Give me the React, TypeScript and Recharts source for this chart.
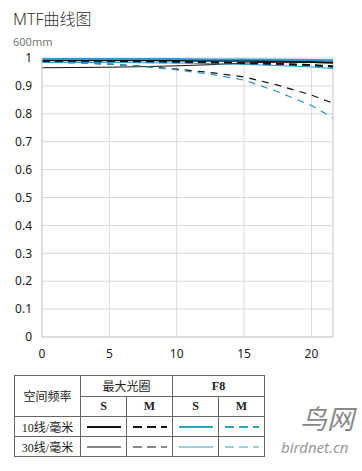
import React from 'react';
import { LineChart, Line, XAxis, YAxis, CartesianGrid, ReferenceLine } from 'recharts';

// --- data ---
const focal = [0, 2.5, 5, 7.5, 10, 12.5, 15, 17.5, 20, 21.6];
const s10Max = [0.992, 0.992, 0.992, 0.992, 0.991, 0.99, 0.99, 0.988, 0.986, 0.984];
const m10Max = [0.99, 0.99, 0.99, 0.989, 0.987, 0.985, 0.982, 0.979, 0.975, 0.97];
const s30Max = [0.965, 0.966, 0.967, 0.969, 0.972, 0.976, 0.982, 0.985, 0.984, 0.982];
const m30Max = [0.986, 0.983, 0.978, 0.97, 0.96, 0.948, 0.932, 0.903, 0.867, 0.838];
const s10F8 = [0.996, 0.996, 0.996, 0.996, 0.996, 0.995, 0.995, 0.994, 0.993, 0.992];
const m10F8 = [0.986, 0.986, 0.986, 0.985, 0.984, 0.982, 0.98, 0.977, 0.973, 0.968];
const s30F8 = [0.984, 0.984, 0.984, 0.983, 0.982, 0.98, 0.977, 0.973, 0.968, 0.962];
const m30F8 = [0.986, 0.982, 0.978, 0.97, 0.957, 0.942, 0.921, 0.879, 0.83, 0.785];

const xTicks = [0, 5, 10, 15, 20];
const yTicks = [0, 0.1, 0.2, 0.3, 0.4, 0.5, 0.6, 0.7, 0.8, 0.9, 1];

const data = focal.map((x, i) => ({
  x,
  s10Max: s10Max[i],
  m10Max: m10Max[i],
  s30Max: s30Max[i],
  m30Max: m30Max[i],
  s10F8: s10F8[i],
  m10F8: m10F8[i],
  s30F8: s30F8[i],
  m30F8: m30F8[i],
}));

const BLUE = '#2a9ad4';
const TEAL = '#2aa2c0';
const SANS = '"Noto Sans", "Noto Sans CJK SC", sans-serif';
const SERIF = '"Liberation Serif", "DejaVu Serif", "Noto Sans CJK SC", serif';

// small line sample for the legend table
const Sample = ({ color, width, dash }: { color: string; width: number; dash?: string }) => (
  <svg width={34} height={6} style={{ display: 'block', margin: '0 auto' }}>
    <line x1={0} y1={3} x2={34} y2={3} stroke={color} strokeWidth={width} strokeDasharray={dash} />
  </svg>
);

const cell: React.CSSProperties = {
  border: '1px solid #666',
  textAlign: 'center',
  padding: 0,
  fontFamily: SERIF,
  fontWeight: 'normal',
  fontSize: 12,
  color: '#222',
};
const bold: React.CSSProperties = { ...cell, fontWeight: 'bold' };

export default function App() {
  return (
    <div style={{ position: 'absolute', left: 0, top: 0, width: 362, height: 471, background: '#fff' }}>
      <div style={{ position: 'absolute', left: 13, top: 6, fontFamily: SANS, fontSize: 16, fontWeight: 300, color: '#333' }}>
        MTF曲线图
      </div>
      <div style={{ position: 'absolute', left: 13, top: 34, fontFamily: SANS, fontSize: 11, color: '#777' }}>
        600mm
      </div>

      <div style={{ position: 'absolute', left: 0, top: 0 }}>
        <LineChart width={362} height={372} data={data} margin={{ top: 58, right: 29, left: 0, bottom: 5 }}>
          <CartesianGrid stroke="#d9d9d9" strokeWidth={1} />
          <XAxis
            dataKey="x"
            type="number"
            domain={[0, 21.6]}
            ticks={xTicks}
            axisLine={false}
            tickLine={false}
            tickSize={0}
            tickMargin={12}
            height={30}
            tick={{ fill: '#222', fontSize: 12, fontFamily: SANS }}
          />
          <YAxis
            type="number"
            domain={[0, 1]}
            ticks={yTicks}
            width={42}
            axisLine={{ stroke: '#cfcfcf' }}
            tickLine={false}
            tickSize={0}
            tickMargin={10}
            tickFormatter={(v: number) => (v === 0 || v === 1 ? String(v) : v.toFixed(1))}
            tick={{ fill: '#222', fontSize: 12, fontFamily: SANS }}
          />
          <ReferenceLine x={21.6} stroke="#d9d9d9" />
          <ReferenceLine y={0} stroke="#cfcfcf" />
          <Line dataKey="s30Max" stroke="#111" strokeWidth={1} dot={false} isAnimationActive={false} />
          <Line dataKey="m30Max" stroke="#111" strokeWidth={1.2} strokeDasharray="7 6" dot={false} isAnimationActive={false} />
          <Line dataKey="m30F8" stroke={BLUE} strokeWidth={1.2} strokeDasharray="7 6" dot={false} isAnimationActive={false} />
          <Line dataKey="s30F8" stroke={BLUE} strokeWidth={1} dot={false} isAnimationActive={false} />
          <Line dataKey="m10F8" stroke={BLUE} strokeWidth={2} strokeDasharray="8 5" dot={false} isAnimationActive={false} />
          <Line dataKey="m10Max" stroke="#111" strokeWidth={2} strokeDasharray="8 5" dot={false} isAnimationActive={false} />
          <Line dataKey="s10Max" stroke="#111" strokeWidth={2} dot={false} isAnimationActive={false} />
          <Line dataKey="s10F8" stroke={BLUE} strokeWidth={2} dot={false} isAnimationActive={false} />
        </LineChart>
      </div>

      <table
        style={{
          position: 'absolute',
          left: 14,
          top: 375,
          width: 250,
          height: 81,
          borderCollapse: 'collapse',
          tableLayout: 'fixed',
        }}
      >
        <colgroup>
          <col style={{ width: 66 }} />
          <col style={{ width: 46 }} />
          <col style={{ width: 46 }} />
          <col style={{ width: 46 }} />
          <col style={{ width: 46 }} />
        </colgroup>
        <tbody>
          <tr style={{ height: 21 }}>
            <td style={cell} rowSpan={2}>空间频率</td>
            <td style={cell} colSpan={2}>最大光圈</td>
            <td style={bold} colSpan={2}>F8</td>
          </tr>
          <tr style={{ height: 20 }}>
            <td style={bold}>S</td>
            <td style={bold}>M</td>
            <td style={bold}>S</td>
            <td style={bold}>M</td>
          </tr>
          <tr style={{ height: 20 }}>
            <td style={cell}>10线/毫米</td>
            <td style={cell}><Sample color="#111" width={2} /></td>
            <td style={cell}><Sample color="#111" width={2} dash="9 5" /></td>
            <td style={cell}><Sample color={TEAL} width={2} /></td>
            <td style={cell}><Sample color={TEAL} width={2} dash="9 5" /></td>
          </tr>
          <tr style={{ height: 20 }}>
            <td style={cell}>30线/毫米</td>
            <td style={cell}><Sample color="#111" width={1} /></td>
            <td style={cell}><Sample color="#111" width={1} dash="9 5" /></td>
            <td style={cell}><Sample color={TEAL} width={1} /></td>
            <td style={cell}><Sample color={TEAL} width={1} dash="9 5" /></td>
          </tr>
        </tbody>
      </table>

      <div style={{ position: 'absolute', left: 300, top: 405, lineHeight: 1, fontFamily: SANS, fontSize: 27, fontStyle: 'italic', color: '#888' }}>
        鸟网
      </div>
      <div style={{ position: 'absolute', left: 281, top: 440, lineHeight: 1, fontFamily: SANS, fontSize: 15, fontStyle: 'italic', color: '#999' }}>
        birdnet.cn
      </div>
    </div>
  );
}
